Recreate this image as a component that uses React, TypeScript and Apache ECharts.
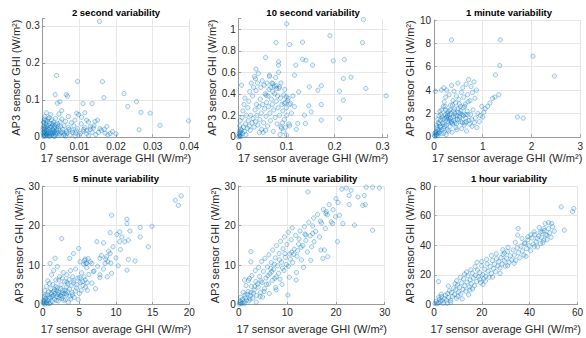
import React, { useEffect, useRef } from "react";
import * as echarts from "echarts";

const FONT = "'Liberation Sans', Arial, Helvetica, sans-serif";

const titles = [
  "2 second variability",
  "10 second variability",
  "1 minute variability",
  "5 minute variability",
  "15 minute variability",
  "1 hour variability",
];
const xAxisName = "17 sensor average GHI (W/m²)";
const yAxisName = "AP3 sensor GHI (W/m²)";

const xTicks = [
  [0, 0.01, 0.02, 0.03, 0.04],
  [0, 0.1, 0.2, 0.3],
  [0, 1, 2, 3],
  [0, 5, 10, 15, 20],
  [0, 10, 20, 30],
  [0, 20, 40, 60],
];
const yTicks = [
  [0, 0.1, 0.2, 0.3],
  [0, 0.2, 0.4, 0.6, 0.8, 1],
  [0, 2, 4, 6, 8, 10],
  [0, 10, 20, 30],
  [0, 10, 20, 30],
  [0, 20, 40, 60, 80],
];
const xMax = [0.04, 0.31, 3, 20, 30, 60];
const yMax = [0.32, 1.1, 10, 30, 30, 80];

const var2s = [
  [0.0155, 0.312], [0.0038, 0.166], [0.0095, 0.15], [0.0163, 0.149], [0.0167, 0.106], [0.0034, 0.114],
  [0.0064, 0.114], [0.0068, 0.11], [0.0047, 0.095], [0.004, 0.091], [0.011, 0.09], [0.0135, 0.09],
  [0.0222, 0.117], [0.0232, 0.082], [0.0256, 0.095], [0.0268, 0.066], [0.0293, 0.064], [0.0398, 0.043],
  [0.032, 0.031], [0.0263, 0.019], [0.0052, 0.071], [0.0093, 0.064], [0.0106, 0.053], [0.0143, 0.042],
  [0.0184, 0.009], [0.0156, 0.022], [0.013, 0.027],
  [0.0002, 0.001], [0.0005, 0.003], [0.0008, 0.002], [0.001, 0.006], [0.0003, 0.008], [0.0012, 0.004],
  [0.0015, 0.01], [0.0006, 0.012], [0.002, 0.002], [0.0018, 0.007], [0.0004, 0.015], [0.001, 0.018],
  [0.0022, 0.012], [0.0025, 0.005], [0.0028, 0.009], [0.003, 0.002], [0.0014, 0.022], [0.0007, 0.026],
  [0.0003, 0.03], [0.0009, 0.035], [0.0016, 0.03], [0.002, 0.025], [0.0026, 0.02], [0.0032, 0.015],
  [0.0035, 0.006], [0.004, 0.01], [0.0038, 0.02], [0.0045, 0.004], [0.005, 0.012], [0.0042, 0.028],
  [0.0036, 0.034], [0.003, 0.04], [0.0024, 0.045], [0.0012, 0.042], [0.0005, 0.048], [0.0018, 0.052],
  [0.0006, 0.055], [0.0028, 0.032], [0.0055, 0.02], [0.006, 0.008], [0.0058, 0.03], [0.0065, 0.015],
  [0.007, 0.025], [0.0075, 0.005], [0.008, 0.018], [0.0085, 0.03], [0.009, 0.01], [0.0095, 0.022],
  [0.01, 0.004], [0.0105, 0.035], [0.011, 0.015], [0.0115, 0.025], [0.012, 0.008], [0.0125, 0.04],
  [0.013, 0.02], [0.0135, 0.012], [0.014, 0.03], [0.0145, 0.006], [0.015, 0.045], [0.016, 0.018],
  [0.017, 0.01], [0.0175, 0.028], [0.019, 0.014], [0.02, 0.008], [0.0048, 0.04], [0.0052, 0.048],
  [0.0062, 0.042], [0.007, 0.055], [0.0078, 0.038], [0.0088, 0.045], [0.0098, 0.06], [0.0035, 0.05],
  [0.0022, 0.06], [0.001, 0.065], [0.0044, 0.062], [0.0115, 0.065], [0.012, 0.045], [0.0001, 0.02],
  [0.0002, 0.04], [0.0017, 0.001], [0.0033, 0.001], [0.0062, 0.002], [0.0088, 0.002], [0.0125, 0.003],
  [0.0004, 0.005], [0.0009, 0.009], [0.0013, 0.014], [0.0017, 0.019], [0.0021, 0.008], [0.0027, 0.013],
  [0.0031, 0.024], [0.0006, 0.021], [0.0011, 0.028], [0.0019, 0.036], [0.0024, 0.028], [0.0029, 0.018],
  [0.0034, 0.011], [0.0039, 0.016], [0.0043, 0.022], [0.0047, 0.008], [0.0008, 0.044], [0.0015, 0.048],
  [0.0003, 0.038], [0.0001, 0.011], [0.0002, 0.025], [0.0025, 0.036], [0.0033, 0.029], [0.0041, 0.035],
  [0.0049, 0.027], [0.0054, 0.013], [0.0058, 0.004], [0.0066, 0.01], [0.0072, 0.02], [0.0081, 0.012],
  [0.0092, 0.016], [0.0103, 0.009], [0.0112, 0.02], [0.0121, 0.017], [0.0138, 0.024], [0.0152, 0.012],
  [0.0168, 0.02], [0.0178, 0.005],
];

const var10s = [
  [0.1, 1.05], [0.26, 1.09], [0.19, 0.94], [0.258, 0.876], [0.078, 0.876], [0.106, 0.858], [0.133, 0.88],
  [0.056, 0.737], [0.197, 0.706], [0.22, 0.718], [0.133, 0.72], [0.14, 0.712], [0.154, 0.666], [0.119, 0.666],
  [0.083, 0.697], [0.083, 0.666], [0.234, 0.554], [0.218, 0.542], [0.265, 0.449], [0.307, 0.381],
  [0.218, 0.34], [0.21, 0.424], [0.172, 0.474], [0.165, 0.433], [0.147, 0.464], [0.125, 0.418],
  [0.116, 0.573], [0.172, 0.3], [0.146, 0.288], [0.151, 0.232], [0.137, 0.201], [0.123, 0.124],
  [0.139, 0.124], [0.172, 0.155], [0.21, 0.17], [0.1, 0.015], [0.106, 0.102], [0.088, 0.093],
  [0.006, 0.48], [0.036, 0.63], [0.035, 0.54], [0.064, 0.573], [0.071, 0.495], [0.078, 0.474],
  [0.085, 0.464], [0.057, 0.387], [0.099, 0.372], [0.102, 0.34], [0.095, 0.31], [0.106, 0.3],
  [0.001, 0.005], [0.002, 0.02], [0.003, 0.01], [0.004, 0.04], [0.005, 0.002], [0.006, 0.06], [0.008, 0.03],
  [0.01, 0.09], [0.012, 0.05], [0.014, 0.12], [0.015, 0.02], [0.018, 0.08], [0.02, 0.15], [0.022, 0.1],
  [0.024, 0.06], [0.025, 0.2], [0.028, 0.13], [0.03, 0.17], [0.032, 0.09], [0.034, 0.25], [0.035, 0.14],
  [0.037, 0.3], [0.038, 0.2], [0.04, 0.11], [0.042, 0.28], [0.044, 0.16], [0.045, 0.35], [0.047, 0.22],
  [0.048, 0.07], [0.05, 0.3], [0.052, 0.13], [0.054, 0.26], [0.055, 0.4], [0.057, 0.19], [0.058, 0.32],
  [0.06, 0.1], [0.062, 0.28], [0.063, 0.44], [0.065, 0.22], [0.066, 0.15], [0.068, 0.35], [0.07, 0.3],
  [0.072, 0.05], [0.073, 0.25], [0.075, 0.4], [0.076, 0.18], [0.078, 0.33], [0.08, 0.12], [0.082, 0.27],
  [0.084, 0.45], [0.085, 0.2], [0.087, 0.36], [0.089, 0.08], [0.09, 0.3], [0.092, 0.24], [0.094, 0.39],
  [0.095, 0.16], [0.097, 0.32], [0.099, 0.27], [0.1, 0.2], [0.103, 0.36], [0.105, 0.12], [0.108, 0.31],
  [0.11, 0.22], [0.113, 0.38], [0.116, 0.28], [0.12, 0.07], [0.007, 0.18], [0.009, 0.24], [0.011, 0.3],
  [0.013, 0.36], [0.016, 0.2], [0.019, 0.27], [0.021, 0.33], [0.023, 0.42], [0.026, 0.5], [0.029, 0.38],
  [0.031, 0.46], [0.033, 0.56], [0.036, 0.43], [0.039, 0.5], [0.041, 0.59], [0.043, 0.04], [0.046, 0.46],
  [0.049, 0.52], [0.051, 0.04], [0.053, 0.48], [0.056, 0.06], [0.059, 0.5], [0.061, 0.38], [0.064, 0.56],
  [0.067, 0.46], [0.069, 0.5], [0.071, 0.42], [0.074, 0.47], [0.077, 0.55], [0.079, 0.45], [0.081, 0.38],
  [0.083, 0.6], [0.086, 0.02], [0.088, 0.5], [0.091, 0.13], [0.093, 0.05], [0.096, 0.44], [0.098, 0.09],
  [0.002, 0.1], [0.003, 0.15], [0.004, 0.07], [0.0, 0.0], [0.001, 0.03], [0.002, 0.05],
];

const var1m = [
  [0.36, 8.3], [1.36, 8.3], [2.03, 6.9], [1.35, 6.1], [1.26, 5.3], [2.47, 5.2], [1.71, 1.7], [1.83, 1.6],
  [1.33, 3.6], [1.25, 3.4], [0.03, 3.9],
  [0.02, 0.05], [0.04, 0.2], [0.06, 0.4], [0.08, 0.1], [0.1, 0.6], [0.12, 0.9], [0.05, 1.0], [0.15, 0.3],
  [0.18, 1.2], [0.2, 0.7], [0.22, 1.6], [0.25, 1.0], [0.28, 1.8], [0.3, 0.5], [0.32, 1.4], [0.35, 2.0],
  [0.38, 1.1], [0.4, 1.7], [0.42, 2.4], [0.45, 0.8], [0.48, 1.5], [0.5, 2.1], [0.52, 2.8], [0.55, 1.3],
  [0.58, 1.9], [0.6, 2.5], [0.62, 1.0], [0.65, 1.6], [0.68, 2.2], [0.7, 3.0], [0.72, 1.4], [0.75, 1.9],
  [0.78, 0.9], [0.8, 2.3], [0.85, 1.6], [0.9, 2.0], [0.95, 1.8], [1.0, 1.7], [1.02, 2.1], [1.05, 2.4],
  [1.1, 2.6], [1.15, 2.9], [1.2, 3.3], [0.14, 1.9], [0.16, 2.3], [0.19, 2.6], [0.21, 3.0], [0.24, 3.4],
  [0.26, 4.0], [0.29, 2.2], [0.31, 3.6], [0.34, 2.7], [0.36, 4.4], [0.39, 3.1], [0.41, 3.9], [0.44, 2.9],
  [0.46, 3.5], [0.49, 4.6], [0.51, 3.2], [0.54, 2.6], [0.56, 3.8], [0.59, 4.2], [0.61, 3.4], [0.64, 2.8],
  [0.66, 4.5], [0.69, 3.6], [0.71, 4.9], [0.74, 3.1], [0.76, 4.3], [0.79, 3.8], [0.82, 4.7], [0.84, 3.3],
  [0.87, 4.0], [0.12, 2.2], [0.08, 1.5], [0.1, 1.8], [0.06, 0.8], [0.03, 0.4], [0.27, 0.6], [0.33, 0.9],
  [0.37, 0.4], [0.43, 1.2], [0.47, 0.6], [0.53, 1.7], [0.57, 0.7], [0.63, 1.2], [0.67, 0.5], [0.73, 1.1],
  [0.77, 1.5], [0.83, 1.2], [0.88, 0.8], [0.93, 1.3], [0.98, 2.6], [0.23, 1.9], [0.27, 1.5], [0.29, 1.3],
  [0.17, 1.7], [0.13, 1.4], [0.24, 2.3], [0.34, 1.6], [0.44, 1.8], [0.54, 2.0], [0.64, 1.9], [0.26, 1.7],
  [0.36, 1.3], [0.01, 0.1], [0.02, 0.3], [0.07, 0.6], [0.09, 1.2], [0.11, 0.4], [0.15, 4.0], [0.2, 4.2],
  [0.14, 0.8], [0.18, 1.5], [0.21, 1.1], [0.23, 2.6], [0.27, 2.0], [0.3, 1.6], [0.33, 2.3], [0.35, 1.2],
  [0.38, 2.7], [0.41, 1.4], [0.43, 2.0], [0.46, 1.1], [0.49, 2.4], [0.52, 1.5], [0.55, 2.2], [0.58, 1.2],
  [0.6, 1.8], [0.63, 2.6], [0.66, 1.3], [0.69, 1.9], [0.2, 0.3], [0.25, 0.2], [0.11, 1.1], [0.16, 0.6],
  [0.09, 0.3], [0.05, 0.15], [0.22, 0.9], [0.32, 1.9], [0.4, 2.2], [0.47, 1.8],
];

const var5m = [
  [18.1, 26.4], [18.9, 27.5], [18.5, 25.1], [9.4, 22.6], [11.5, 21.6], [11.5, 20.5], [13.3, 19.5], [14.9, 19.8],
  [11.9, 18.6], [10.5, 18.4], [9.2, 18.2], [7.4, 15.9], [8.3, 15.6], [10.1, 17.7], [10.8, 17.1], [11.2, 15.9],
  [10.5, 15.9], [11.7, 16.3], [14.4, 14.6], [13.3, 17.1], [2.6, 16.7], [9.2, 12.9], [8.7, 12.1], [8.9, 10.8],
  [8.5, 10.4], [7.8, 11.7], [11.7, 11.4], [12.6, 11.0], [9.4, 7.9], [11.5, 8.7], [5.8, 11.5], [6.0, 10.4],
  [5.1, 10.8], [1.0, 10.4], [1.7, 11.7], [4.9, 14.2], [4.2, 12.9], [3.7, 11.7], [6.7, 10.4], [6.9, 8.3],
  [7.8, 7.5],
  [0.1, 0.2], [0.2, 0.8], [0.3, 0.1], [0.4, 1.5], [0.5, 0.5], [0.6, 2.4], [0.7, 1.0], [0.8, 3.2], [0.9, 0.3],
  [1.0, 1.8], [1.1, 4.0], [1.2, 2.6], [1.3, 0.7], [1.4, 5.1], [1.5, 3.3], [1.6, 1.4], [1.7, 2.8], [1.8, 6.2],
  [1.9, 2.0], [2.0, 4.2], [2.1, 0.9], [2.2, 3.0], [2.3, 7.0], [2.4, 2.3], [2.5, 5.0], [2.6, 1.5], [2.7, 3.6],
  [2.8, 8.1], [2.9, 2.7], [3.0, 5.8], [3.1, 1.2], [3.2, 4.4], [3.3, 7.5], [3.4, 3.2], [3.5, 0.6], [3.6, 6.3],
  [3.7, 2.1], [3.8, 8.6], [3.9, 4.8], [4.0, 3.0], [4.1, 7.0], [4.2, 5.5], [4.3, 1.8], [4.5, 9.0], [4.6, 4.2],
  [4.8, 6.7], [5.0, 2.8], [5.1, 5.6], [5.3, 8.0], [5.5, 4.8], [5.6, 10.2], [5.8, 6.2], [6.0, 9.3], [6.1, 3.6],
  [6.3, 7.6], [6.5, 10.8], [6.7, 5.4], [7.0, 8.5], [7.2, 4.0], [7.5, 9.7], [7.8, 6.8], [8.0, 12.4], [8.3, 9.0],
  [8.6, 11.5], [8.8, 7.0], [9.0, 13.5], [9.3, 10.5], [9.6, 14.6], [10.0, 11.8], [10.3, 9.8], [10.6, 13.9],
  [0.3, 3.5], [0.5, 4.6], [0.7, 6.0], [0.9, 5.3], [1.2, 7.5], [1.5, 8.6], [2.0, 9.6], [0.15, 1.1], [0.25, 2.0],
  [0.45, 0.9], [0.65, 0.2], [0.85, 1.6], [1.05, 0.4], [1.25, 2.0], [1.45, 2.2], [1.65, 3.8], [1.85, 1.0],
  [2.05, 2.6], [2.25, 1.8], [2.45, 4.0], [2.65, 2.9], [2.85, 1.1], [3.05, 3.6], [3.25, 2.4], [3.45, 5.2],
  [3.65, 3.9], [3.85, 1.4], [4.05, 2.4], [4.25, 6.0], [4.45, 3.4], [4.65, 5.0], [4.85, 1.2], [5.05, 6.8],
  [5.25, 3.6], [5.45, 5.8], [5.65, 7.0], [5.85, 4.4], [6.05, 5.5], [2.2, 6.2], [1.8, 4.5], [2.7, 6.7],
  [3.3, 5.7], [5.7, 11.2], [5.9, 10.4], [6.2, 11.6], [0.05, 0.6], [0.35, 2.4], [1.15, 3.0], [1.95, 3.4],
  [2.55, 2.1], [3.15, 2.8],
];

const var15m = [
  [14.2, 28.5], [21.2, 29.2], [22.1, 29.5], [23.1, 28.9], [20.0, 26.8], [22.7, 27.6], [24.5, 27.2], [25.8, 27.6],
  [26.2, 29.7], [27.5, 29.7], [28.9, 29.5], [25.5, 25.1], [26.0, 25.3], [22.7, 25.3], [23.8, 20.1], [27.5, 18.8],
  [20.7, 22.6], [21.4, 20.5], [19.3, 20.5], [17.9, 23.0], [20.3, 15.9], [17.6, 13.8], [16.9, 13.8], [15.5, 15.9],
  [15.2, 18.0], [13.8, 17.6], [2.5, 13.4], [2.5, 10.8], [2.2, 6.6], [1.2, 6.2], [11.8, 6.2], [10.1, 2.4],
  [7.7, 3.7], [17.3, 11.7], [18.3, 12.1],
  [0.2, 0.5], [0.5, 0.2], [0.8, 1.3], [1.1, 0.7], [1.3, 2.4], [1.6, 1.1], [1.9, 3.3], [2.1, 0.9], [2.4, 2.2],
  [2.6, 4.6], [2.9, 1.6], [3.2, 3.7], [3.5, 5.8], [3.7, 2.3], [4.0, 4.4], [4.3, 7.1], [4.5, 3.1], [4.8, 5.6],
  [5.1, 8.4], [5.3, 4.0], [5.6, 6.7], [5.9, 9.5], [6.1, 5.2], [6.4, 7.8], [6.7, 10.6], [6.9, 6.1], [7.2, 8.9],
  [7.5, 11.8], [7.7, 7.0], [8.0, 9.8], [8.3, 12.9], [8.5, 6.4], [8.8, 10.7], [9.1, 14.1], [9.3, 8.6],
  [9.6, 11.9], [9.9, 15.2], [10.2, 9.7], [10.5, 12.8], [10.8, 16.4], [11.1, 10.6], [11.4, 14.0], [11.7, 17.5],
  [12.0, 12.2], [12.3, 15.3], [12.6, 18.6], [12.9, 11.3], [13.2, 14.9], [13.5, 19.7], [13.8, 16.2], [14.1, 13.3],
  [14.4, 20.8], [14.7, 17.4], [15.0, 14.6], [15.4, 21.9], [15.8, 18.5], [16.2, 22.8], [16.6, 17.1], [17.0, 20.6],
  [17.4, 24.1], [17.8, 19.2], [18.2, 22.7], [18.6, 25.3], [19.0, 20.9], [19.4, 24.0], [19.9, 22.2], [20.4, 25.8],
  [0.4, 1.8], [0.9, 3.1], [1.5, 4.8], [2.0, 6.1], [2.7, 7.3], [3.4, 8.6], [4.1, 9.4], [4.7, 10.9], [5.4, 11.7],
  [6.2, 12.6], [7.0, 13.8], [7.8, 14.9], [8.6, 16.0], [9.4, 17.1], [10.2, 18.3], [11.0, 19.4], [3.6, 0.6],
  [4.9, 1.9], [6.3, 2.8], [7.6, 4.3], [8.9, 5.1], [10.4, 6.9], [11.9, 8.1], [13.3, 9.4], [14.8, 11.2],
  [1.2, 0.2], [2.3, 1.4], [3.0, 2.9], [4.4, 2.0], [5.2, 3.3], [6.0, 7.3], [6.8, 8.3], [7.4, 6.6], [8.2, 7.9],
  [9.0, 9.2], [9.8, 10.1], [10.6, 11.5], [11.3, 12.7], [12.1, 13.6], [12.8, 14.5], [0.1, 0.1], [0.3, 0.9],
  [0.7, 0.4], [1.4, 1.7], [1.8, 2.6], [2.5, 3.0], [3.3, 4.6], [3.9, 5.2], [4.6, 6.0], [5.7, 5.1], [6.6, 9.1],
  [7.3, 10.2], [8.4, 11.3], [9.5, 12.9], [10.9, 13.2], [12.4, 16.6], [13.6, 17.8], [15.2, 19.9], [16.8, 21.1],
  [18.0, 23.5],
];

const var1h = [
  [53.2, 65.9], [57.9, 62.6], [58.5, 64.8], [54.5, 50.2], [45.9, 51.3], [46.5, 54.7], [49.2, 54.7], [45.2, 49.1],
  [47.2, 46.9], [44.5, 41.3], [45.9, 43.5], [35.2, 51.3], [35.0, 46.9], [39.2, 45.7], [41.9, 49.1], [43.2, 44.6],
  [37.9, 41.3],
  [0.4, 0.6], [0.9, 2.1], [1.3, 0.5], [1.8, 1.2], [2.2, 3.4], [2.7, 1.9], [3.1, 5.2], [3.4, 2.6], [3.9, 0.9],
  [4.3, 4.1], [4.8, 6.3], [5.2, 3.0], [5.7, 7.4], [6.1, 4.6], [6.4, 9.2], [6.9, 2.8], [7.3, 8.1], [7.7, 5.5],
  [8.2, 11.0], [8.6, 6.7], [9.1, 9.9], [9.4, 4.2], [9.8, 13.1], [10.3, 8.4], [10.7, 11.6], [11.2, 7.1],
  [11.6, 14.6], [12.1, 10.2], [12.4, 17.3], [12.9, 12.6], [13.3, 9.0], [13.8, 15.1], [14.2, 19.4], [14.7, 11.8],
  [15.1, 16.6], [15.6, 13.9], [16.0, 21.2], [16.4, 17.8], [16.9, 12.7], [17.3, 19.6], [17.8, 15.4], [18.2, 23.3],
  [18.6, 18.7], [19.1, 21.4], [19.5, 14.8], [19.9, 26.1], [20.4, 20.2], [20.8, 17.3], [21.3, 23.8], [21.7, 19.1],
  [22.2, 27.4], [22.6, 22.5], [23.1, 18.4], [23.5, 25.6], [24.0, 21.0], [24.4, 29.7], [24.9, 24.3], [25.3, 27.2],
  [25.8, 22.1], [26.2, 30.8], [26.7, 26.0], [27.1, 28.9], [27.6, 24.6], [28.0, 31.6], [28.5, 27.3], [28.9, 33.8],
  [29.4, 29.5], [29.8, 25.9], [30.3, 31.2], [30.8, 35.6], [31.4, 28.4], [31.9, 32.9], [32.5, 30.1], [33.1, 36.8],
  [33.6, 33.3], [34.2, 29.8], [34.8, 38.2], [35.3, 35.0], [35.9, 31.6], [36.4, 39.4], [37.0, 36.2], [37.6, 33.4],
  [38.1, 41.5], [38.7, 37.8], [39.3, 43.7], [39.8, 39.6], [40.4, 36.3], [41.0, 44.9], [41.5, 40.8], [42.1, 47.3],
  [42.7, 42.4], [43.3, 38.9], [43.8, 46.1], [44.4, 48.8], [45.0, 45.2], [45.6, 41.7], [46.1, 49.9], [46.7, 47.0],
  [47.3, 43.8], [47.9, 51.2], [48.4, 48.3], [49.0, 45.4], [49.6, 52.6], [50.3, 49.5],
  [1.9, 15.5], [14.5, 6.5], [6.0, 12.5], [8.8, 14.0], [11.0, 18.3], [5.5, 0.8], [7.0, 1.5], [10.0, 5.5],
  [16.2, 10.5], [20.5, 13.5], [13.6, 22.0], [18.0, 28.5], [22.0, 30.5], [26.0, 34.2], [28.8, 37.0], [24.5, 18.5],
  [30.8, 26.2], [33.5, 27.8], [3.0, 7.0], [2.0, 5.0], [12.8, 20.5], [15.4, 23.4], [17.2, 25.6], [20.0, 29.0],
  [9.5, 16.0], [11.8, 3.8], [15.0, 9.8], [19.2, 17.0], [21.5, 15.8], [24.0, 33.0], [27.6, 21.0], [29.5, 34.8],
  [31.0, 38.5], [34.0, 42.0], [36.8, 44.5], [40.5, 47.0], [44.0, 52.0], [48.0, 55.2], [38.5, 32.5], [42.0, 39.0],
];

const seriesData = [var2s, var10s, var1m, var5m, var15m, var1h];

// layout (pixels)
const gridBoxes = [
  { left: 42.7, top: 18.5, width: 146.6, height: 118.3 },
  { left: 238.7, top: 18.5, width: 148.8, height: 118.3 },
  { left: 434, top: 20, width: 150, height: 116.8 },
  { left: 42.7, top: 186, width: 146.6, height: 118.5 },
  { left: 238.7, top: 186, width: 146, height: 118.5 },
  { left: 434, top: 186, width: 150, height: 118.5 },
];
const titleY = [12.7, 12.7, 12.7, 178, 178, 178];
const yNameGap = [16, 11.5, 11, 16, 11, 11];
const xNameGap = [16, 16, 16, 19, 19, 19];
const xLabelMargin = [5, 5, 5, 3, 3, 3];

const TEXT = "#262626";
const AXIS = "#9a9a9a";
const GRID = "#e6e6e6";

function tickFormatter(ticks: number[]) {
  return (v: number) => {
    const t = ticks.find((k) => Math.abs(k - v) < 1e-9);
    return t === undefined ? "" : String(t);
  };
}

export default function App() {
  const ref = useRef<HTMLDivElement>(null);
  useEffect(() => {
    if (!ref.current) return;
    const chart = echarts.init(ref.current, undefined, { renderer: "svg" });
    const grids = gridBoxes.map((g) => ({ ...g, containLabel: false }));
    const makeAxis = (i: number, isX: boolean) => {
      const ticks = isX ? xTicks[i] : yTicks[i];
      const max = isX ? xMax[i] : yMax[i];
      const maxIsTick = ticks.some((t) => Math.abs(t - max) < 1e-9);
      return {
        type: "value",
        gridIndex: i,
        min: 0,
        max,
        interval: ticks[1] - ticks[0],
        name: isX ? xAxisName : yAxisName,
        nameLocation: "middle",
        nameGap: isX ? xNameGap[i] : yNameGap[i],
        nameTextStyle: { fontSize: 11, color: TEXT, fontFamily: FONT },
        axisLine: { show: true, onZero: false, lineStyle: { color: AXIS, width: 1 } },
        axisTick: { show: true, inside: true, length: 2.5, lineStyle: { color: AXIS } },
        axisLabel: {
          fontSize: 10,
          color: TEXT,
          fontFamily: FONT,
          margin: isX ? xLabelMargin[i] : 3,
          formatter: tickFormatter(ticks),
          hideOverlap: false,
        },
        splitLine: { show: true, showMaxLine: maxIsTick, lineStyle: { color: GRID, width: 1 } },
      };
    };
    const xAxes = gridBoxes.map((_, i) => makeAxis(i, true));
    const yAxes = gridBoxes.map((_, i) => makeAxis(i, false));
    const series = seriesData.map((d, i) => ({
      type: "scatter",
      xAxisIndex: i,
      yAxisIndex: i,
      data: d,
      symbol: "circle",
      symbolSize: 4.3,
      itemStyle: {
        color: "rgba(0,114,189,0.12)",
        borderColor: "rgba(0,114,189,0.55)",
        borderWidth: 0.8,
      },
      emphasis: { disabled: true },
    }));
    const graphic = titles.map((t, i) => ({
      type: "text",
      x: gridBoxes[i].left + gridBoxes[i].width / 2,
      y: titleY[i],
      silent: true,
      style: {
        text: t,
        fontSize: 9.5,
        fontWeight: "bold",
        fontFamily: FONT,
        fill: "#000",
        align: "center",
        verticalAlign: "middle",
      },
    }));
    chart.setOption({
      animation: false,
      backgroundColor: "#fff",
      grid: grids,
      xAxis: xAxes,
      yAxis: yAxes,
      series,
      graphic,
    });
    return () => chart.dispose();
  }, []);
  return (
    <div
      ref={ref}
      style={{ position: "fixed", left: 0, top: 0, width: 586, height: 338, background: "#fff" }}
    />
  );
}
